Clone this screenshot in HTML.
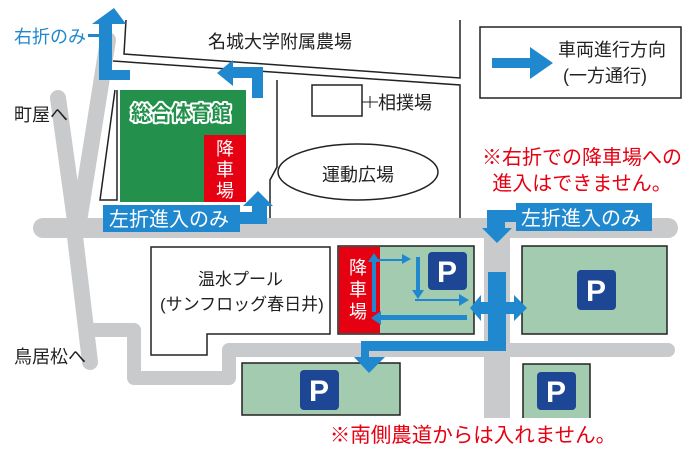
<!DOCTYPE html>
<html><head><meta charset="utf-8"><style>
html,body{margin:0;padding:0;background:#fff;}
svg{display:block;font-family:"Liberation Sans","Noto Sans CJK JP",sans-serif;}
</style></head><body>
<svg width="700" height="450" viewBox="0 0 700 450" xmlns="http://www.w3.org/2000/svg">
<rect width="700" height="450" fill="#fff"/>
<!-- roads -->
<g stroke="#c9cacc" fill="none" stroke-linecap="round" stroke-linejoin="round">
<path d="M43 228 H668" stroke-width="20"/>
<path d="M108 40 L78 228" stroke-width="16"/>
<path d="M58 98 L76 228" stroke-width="16"/>
<path d="M74 228 L90 362" stroke-width="16"/>
<path d="M92 330 H134 V378 H229 V350 H668" stroke-width="14"/>
<path d="M497 228 V418" stroke-width="26" stroke-linecap="butt"/>
</g>
<!-- thin lines -->
<g stroke="#222" fill="none" stroke-width="1.5">
<path d="M126 20 L124 54 L460 78 V20"/>
<path d="M113 61 L460 85 V218"/>
<path d="M115 90 L100 200 H117 V90"/>
<path d="M277 80 V167 L270 180 V218"/>
<rect x="312" y="85" width="50" height="31"/>
<path d="M362 102 H378 M370 96 V108" stroke-width="1"/>
<ellipse cx="358" cy="172" rx="80" ry="28"/>
<rect x="480" y="27" width="201" height="71"/>
<path d="M151 247 H330 V334 H207 V355 H151 Z"/>
</g>
<!-- gym -->
<rect x="120" y="90" width="126" height="112" fill="#23914b"/>
<rect x="204" y="135" width="42" height="67" fill="#e50012"/>
<text x="181" y="120" font-size="20" font-weight="bold" fill="#fff" stroke="#fff" stroke-width="4" stroke-linejoin="round" text-anchor="middle">総合体育館</text>
<text x="181" y="120" font-size="20" font-weight="bold" fill="#23914b" text-anchor="middle">総合体育館</text>
<g font-size="18" fill="#fff" text-anchor="middle"><text x="225" y="155">降</text><text x="225" y="176">車</text><text x="225" y="197">場</text></g>
<!-- parking areas -->
<g stroke="#222" stroke-width="1.5">
<rect x="338" y="246" width="136" height="88" fill="#a3cbb0"/>
<rect x="522" y="246" width="145" height="88" fill="#a3cbb0"/>
<rect x="242" y="363" width="158" height="52" fill="#a3cbb0"/>
<path d="M523 418 V364 H590 V418" fill="#a3cbb0"/>
</g>
<rect x="339" y="247" width="41" height="86" fill="#e50012"/>
<g font-size="18" fill="#fff" text-anchor="middle"><text x="358" y="274">降</text><text x="358" y="296">車</text><text x="358" y="318">場</text></g>
<g fill="#1d4694">
<rect x="428" y="252" width="39" height="38" rx="4"/>
<rect x="577" y="270" width="39" height="40" rx="4"/>
<rect x="300" y="370" width="39" height="40" rx="4"/>
<rect x="537" y="372" width="39" height="38" rx="4"/>
</g>
<g fill="#fff" font-size="30" font-weight="bold" text-anchor="middle">
<text x="447" y="282">P</text><text x="596" y="301">P</text><text x="319" y="401">P</text><text x="556" y="402">P</text>
</g>
<!-- blue arrows -->
<g fill="#1f88cf" stroke="none">
<path d="M130 70 V80 H99 V24 H92 L114 8 L126 24 H112 V70 Z"/>
<rect x="88" y="34" width="12" height="3"/>
<path d="M263 98 H252 V78 H233 V86 L217 73 L233 60 V67 H263 Z"/>
<rect x="103" y="205" width="137" height="27"/>
<path d="M240 212 H252 V206 H243 L258 191 L273 206 H267 V224 H240 Z"/>
<rect x="516" y="203" width="136" height="28"/>
<path d="M520 210 H487 V228 H482 L497 243 L512 228 H505 V222 H520 Z"/>
<path d="M488 272 H506 V302 H514 V295 L527 308 L514 321 V314 H506 V351 H369 V357 H385 L369 373 L354 357 H361 V341 H488 V314 H481 V321 L470 308 L481 295 V302 H488 Z"/>
<path d="M372 312 V262 H368 L374 253 L380 262 H376 V259 H402 V254 L411 259 L402 264 V261 H376 V312 Z"/>
<path d="M416 257 H420 V290 H424 L418 299 L412 290 H416 Z"/>
<path d="M415 299 H459 V294 L469 300 L459 306 V301 H415 Z"/>
<path d="M467 315 V320 H381 V325 L371 318 L381 311 V315 Z"/>
<path d="M492 58 H530 V47 L553 63 L530 79 V68 H492 Z"/>
</g>
<g fill="#fff" font-size="20"><text x="109" y="226">左折進入のみ</text><text x="521" y="225">左折進入のみ</text></g>
<!-- labels -->
<text x="14" y="43" font-size="18" fill="#1f88cf">右折のみ</text>
<g fill="#222" font-size="18">
<text x="208" y="48">名城大学附属農場</text>
<text x="378" y="109">相撲場</text>
<text x="322" y="181">運動広場</text>
<text x="14" y="121">町屋へ</text>
<text x="14" y="363">鳥居松へ</text>
<text x="198" y="285" font-size="17">温水プール</text>
<text x="160" y="310" font-size="17">(サンフロッグ春日井)</text>
<text x="558" y="56">車両進行方向</text>
<text x="563" y="82">(一方通行)</text>
</g>
<g fill="#e50012" font-size="20" text-anchor="middle">
<text x="582" y="164">※右折での降車場への</text>
<text x="582" y="190">進入はできません。</text>
<text x="473" y="442" font-size="20.5">※南側農道からは入れません。</text>
</g>
</svg>
</body></html>
